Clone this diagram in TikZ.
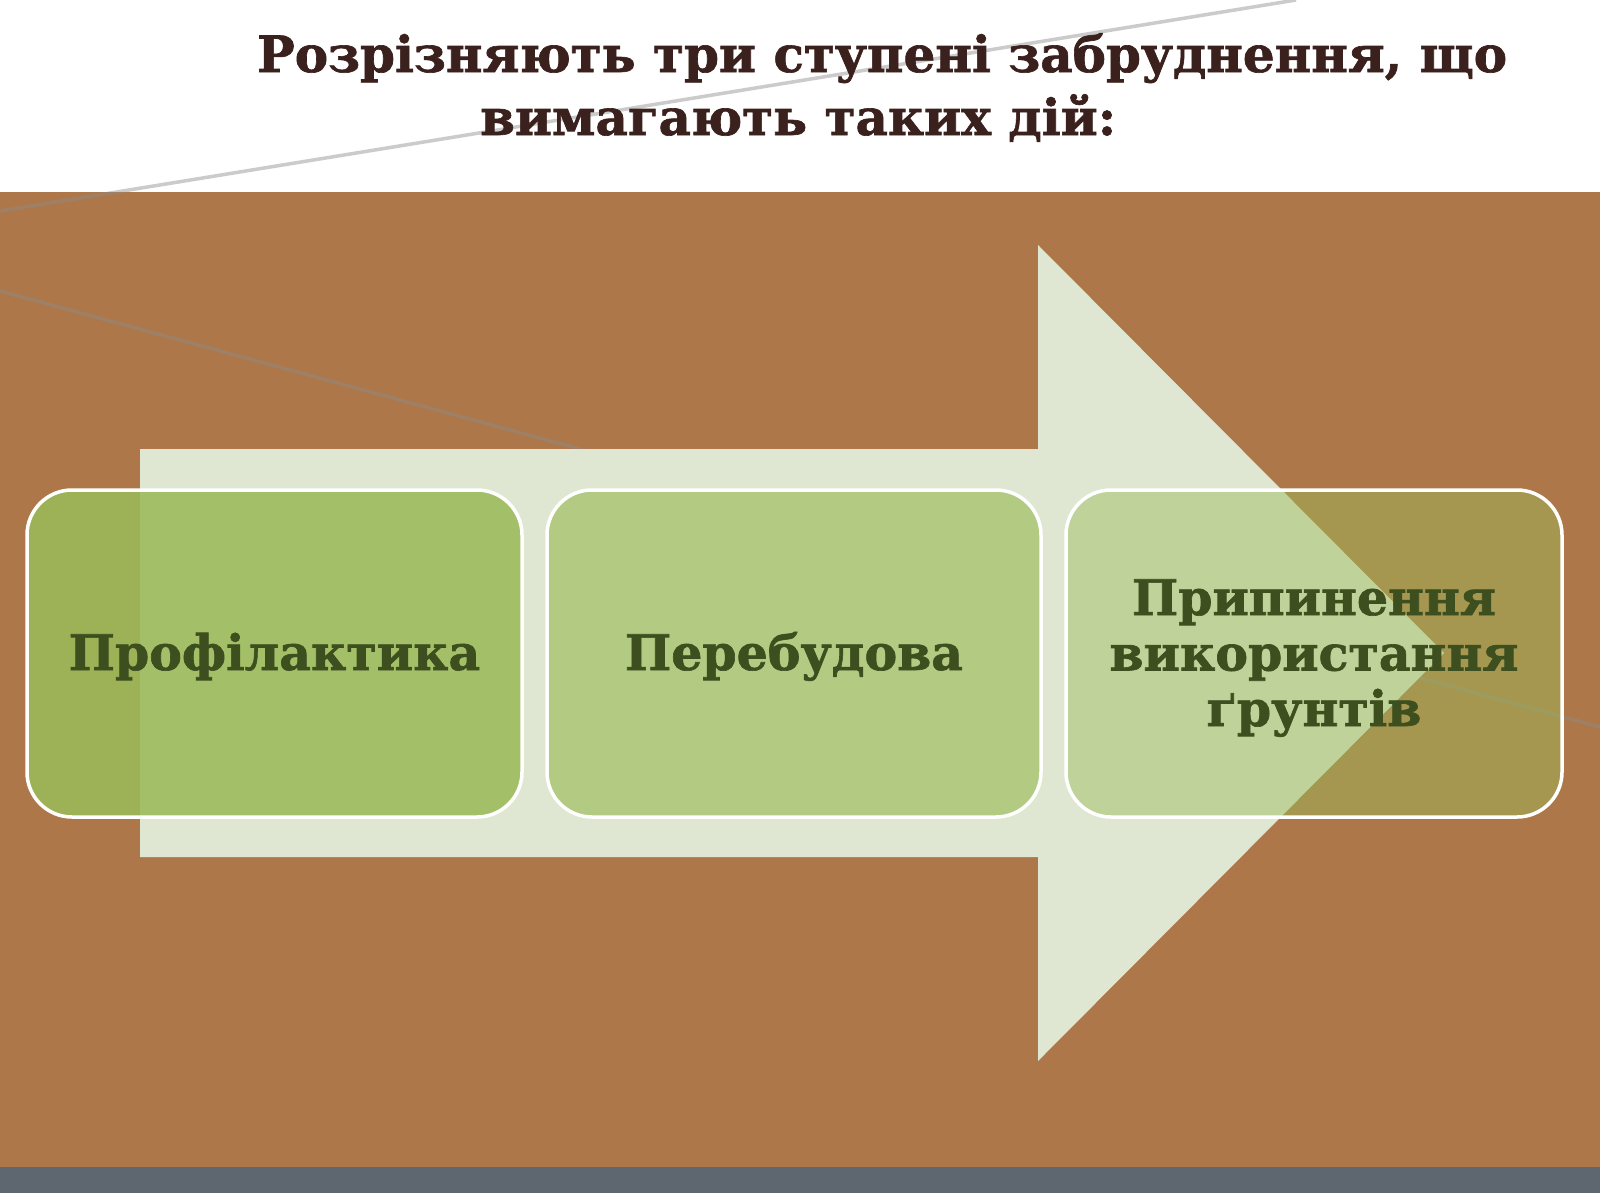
\documentclass[tikz,border=0pt]{standalone}
\usepackage{fontspec}
\setmainfont{DejaVu Serif}[BoldFeatures={FakeBold=1.3}]
\definecolor{bgbrown}{HTML}{AE7749}
\definecolor{bandgrey}{HTML}{5E6770}
\definecolor{arrowpale}{HTML}{DFE7D3}
\definecolor{boxgreen}{HTML}{9BBB59}
\definecolor{textgreen}{HTML}{3D4F1F}
\definecolor{titlebrown}{HTML}{3B211D}
\definecolor{decoline}{HTML}{8C8C8C}
\tikzset{
  stagebox/.style={draw=white, line width=3.5pt, rounded corners=45pt, fill=boxgreen},
  stagetext/.style={text=textgreen, font=\bfseries\fontsize{49}{55.5}\selectfont, align=center, inner sep=0pt},
  titletext/.style={text=titlebrown, font=\bfseries\fontsize{50}{62}\selectfont, inner sep=0pt},
  decostroke/.style={draw=decoline, draw opacity=0.45, line width=3.5pt}
}
\begin{document}
\begin{tikzpicture}[x=1pt,y=-1pt]
\useasboundingbox (0,0) rectangle (1600,1200);
\fill[white] (0,0) rectangle (1600,1200);
% background bands
\fill[bgbrown] (0,192) rectangle (1600,1167);
\fill[bandgrey] (0,1167) rectangle (1600,1193);
% decorative lines
\coordinate (l1a) at (0,211);
\coordinate (l1b) at (1296,0);
\coordinate (l2a) at (0,291);
\coordinate (l2b) at (1600,727);
\draw[decostroke] (l1a) -- (l1b);
\draw[decostroke] (l2a) -- (l2b);
% big arrow
\fill[arrowpale] (140,449) -- (1038,449) -- (1038,245) -- (1444,653) -- (1038,1061) -- (1038,857) -- (140,857) -- cycle;
% boxes
\path[stagebox, fill opacity=0.87] (27,490) rectangle (522,817);
\path[stagebox, fill opacity=0.66] (547,490) rectangle (1041,817);
\path[stagebox, fill opacity=0.47] (1066,490) rectangle (1562,817);
\node[stagetext, anchor=base] (t1) at (274.5,670) {Профілактика};
\node[stagetext, anchor=base] (t2) at (794,670) {Перебудова};
\node[stagetext, anchor=base] (t3) at (1314,726) {Припинення\\використання\\ґрунтів};
% title
\node[titletext, anchor=base west] (title1) at (257,72) {Розрізняють три ступені забруднення, що};
\node[titletext, anchor=base west] (title2) at (480,135) {вимагають таких дій:};
\end{tikzpicture}
\end{document}
